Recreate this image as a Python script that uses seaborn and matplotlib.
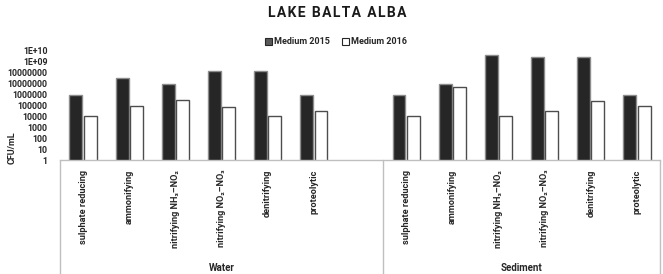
import numpy as np
import pandas as pd
import matplotlib
matplotlib.use("Agg")
import matplotlib.pyplot as plt
import seaborn as sns
from matplotlib.transforms import blended_transform_factory
from matplotlib.lines import Line2D
from matplotlib.patches import Patch

# ---- data ----
categories = ["sulphate reducing", "ammonifying", "nitrifying NH\u2083\u2013NO\u2082",
              "nitrifying NO\u2082\u2013NO\u2083", "denitrifying", "proteolytic"]
groups = ["Water", "Sediment"]
series = ["Medium 2015", "Medium 2016"]
water_2015 = [1e6, 3e7, 9e6, 1.5e8, 1.5e8, 1e6]
water_2016 = [1e4, 9e4, 3e5, 7e4, 1e4, 3e4]
sediment_2015 = [1e6, 1e7, 4.5e9, 3e9, 3e9, 1e6]
sediment_2016 = [1e4, 5e6, 1e4, 3e4, 2.5e5, 1e5]
ytick_labels = ["1", "10", "100", "1000", "10000", "100000", "1000000",
                "10000000", "10000000", "1E+09", "1E+10"]

sns.set_theme(style="white")
FAM = ["Roboto", "DejaVu Sans"]
plt.rcParams["font.family"] = FAM
plt.rcParams["font.weight"] = "bold"

rows = []
for g, v15, v16 in [("Water", water_2015, water_2016), ("Sediment", sediment_2015, sediment_2016)]:
    for c, a, b in zip(categories, v15, v16):
        rows.append({"slot": f"{g}|{c}", "series": series[0], "value": a})
        rows.append({"slot": f"{g}|{c}", "series": series[1], "value": b})
df = pd.DataFrame(rows)
order = [f"Water|{c}" for c in categories] + ["blank"] + [f"Sediment|{c}" for c in categories]

fig = plt.figure(figsize=(6.63, 2.74), dpi=100)
ax = fig.add_axes([60 / 663, (274 - 160) / 274, 600 / 663, 109 / 274])

sns.barplot(data=df, x="slot", y="value", hue="series", order=order,
            hue_order=series, palette=["#262626", "#ffffff"], width=0.62, gap=0.1,
            ax=ax, legend=False, saturation=1)
ax.set_yscale("log")

for bar in ax.patches:
    fc = bar.get_facecolor()
    if fc[0] < 0.5:
        bar.set_edgecolor("#8c8c8c")
    else:
        bar.set_edgecolor("#4d4d4d")
    bar.set_linewidth(1.0)

ax.set_ylim(1, 1e10)
ax.set_xlim(-0.5, 12.5)
yt = [10.0 ** k for k in range(11)]
ax.set_yticks(yt)
ax.set_yticklabels(ytick_labels, fontweight="bold", family=FAM)
ax.yaxis.set_minor_locator(matplotlib.ticker.NullLocator())
ax.tick_params(axis="y", length=0, pad=9, labelsize=6.3)
ax.set_xticks(range(13))
ax.set_xticklabels(categories + [""] + categories, rotation=90, va="top", ha="center",
                   fontweight="bold", family=FAM)
ax.tick_params(axis="x", length=0, pad=7, labelsize=6.6)
ax.set_xlabel("")
ax.set_ylabel("")

for s in ["left", "top", "right"]:
    ax.spines[s].set_visible(False)
ax.spines["bottom"].set_color("#bfbfbf")
ax.spines["bottom"].set_linewidth(1.0)

tr = blended_transform_factory(ax.transData, ax.transAxes)
for xv in [-0.5, 6.5, 12.5]:
    ax.add_line(Line2D([xv, xv], [0, -1.05], transform=tr, color="#bfbfbf",
                       lw=1.0, clip_on=False))
ax.text(3, -0.99, groups[0], transform=tr, ha="center", va="center", fontsize=7, fontweight="bold")
ax.text(9.5, -0.99, groups[1], transform=tr, ha="center", va="center", fontsize=7, fontweight="bold")

fig.text(12 / 663, 1 - 148 / 274, "CFU/mL", rotation=90, ha="center", va="center",
         fontsize=6.5, fontweight="bold")
fig.text(337 / 663, 1 - 13 / 274, "\u200a".join("LAKE BALTA ALBA"),
         ha="center", va="center", fontsize=10, fontweight="bold", color="#1a1a1a")

handles = [Patch(facecolor="#595959", edgecolor="#262626", lw=0.8),
           Patch(facecolor="#ffffff", edgecolor="#262626", lw=0.8)]
fig.legend(handles, series, loc="center", bbox_to_anchor=(336 / 663, 1 - 42 / 274), ncol=2,
           frameon=False, prop={"size": 6.5, "weight": "bold", "family": FAM},
           handlelength=0.8, handleheight=0.8, handletextpad=0.2, columnspacing=1.4)

fig.savefig("out.png", dpi=100)
